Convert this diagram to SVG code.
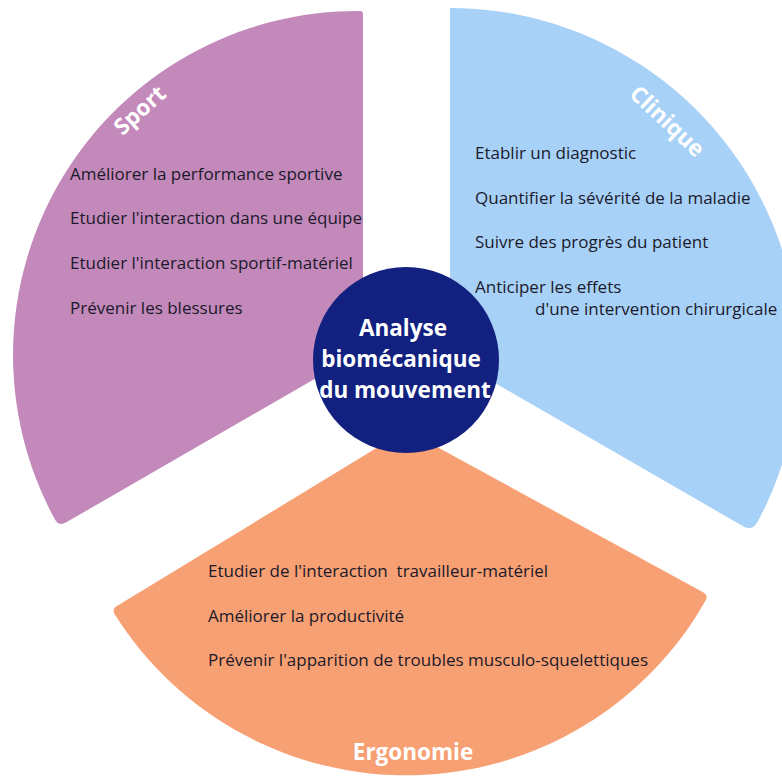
<svg xmlns="http://www.w3.org/2000/svg" width="782" height="778" viewBox="0 0 782 778">
<style>
.item{font-family:"Open Sans","Noto Sans","Liberation Sans",sans-serif;font-size:17px;fill:#1b1a2b}
.title{font-family:"Open Sans","Noto Sans","Liberation Sans",sans-serif;font-size:22.5px;font-weight:bold;fill:#ffffff}
.center{font-family:"Open Sans","Noto Sans","Liberation Sans",sans-serif;font-size:22.5px;font-weight:bold;fill:#ffffff}
</style>
<rect width="782" height="778" fill="#ffffff"/>
<g id="sport">
<path d="M363,351 L363,14 Q363,11 360,11 A344,344 0 0,0 55.1,519.8 Q58.9,526.6 65.8,522.6 Z" fill="#c389ba"/>
<text class="title" text-anchor="middle" transform="translate(145,116) rotate(-42)">Sport</text>
<text class="item" x="70" y="180">Améliorer la performance sportive</text>
<text class="item" x="70" y="224">Etudier l'interaction dans une équipe</text>
<text class="item" x="70" y="269">Etudier l'interaction sportif-matériel</text>
<text class="item" x="70" y="314">Prévenir les blessures</text>
</g>
<g id="clinique">
<path d="M450,357 L450,8 A349,349 0 0,1 757.6,521.8 Q752.2,531.5 743.5,526.5 Z" fill="#a8d1f8"/>
<text class="title" text-anchor="middle" transform="translate(662,127) rotate(43)">Clinique</text>
<text class="item" x="475" y="159">Etablir un diagnostic</text>
<text class="item" x="475" y="204">Quantifier la sévérité de la maladie</text>
<text class="item" x="475" y="248">Suivre des progrès du patient</text>
<text class="item" x="475" y="293">Anticiper les effets</text>
<text class="item" x="535" y="315">d'une intervention chirurgicale</text>
</g>
<g id="ergonomie">
<path d="M406,430 L699.6,599.5 Q703.9,602 702,606.6 A344,344 0 0,1 110,606.6 Q108.1,602 112.4,599.5 Z" fill="#f7a073" transform="rotate(-1.35 406 430)"/>
<text class="title" text-anchor="middle" x="413" y="760">Ergonomie</text>
<text class="item" x="208" y="577" xml:space="preserve">Etudier de l'interaction  travailleur-matériel</text>
<text class="item" x="208" y="622">Améliorer la productivité</text>
<text class="item" x="208" y="666">Prévenir l'apparition de troubles musculo-squelettiques</text>
</g>
<g id="connectors"></g>
<g id="centre">
<circle cx="406" cy="360" r="93" fill="#12217f"/>
<text class="center" text-anchor="middle" x="403" y="336">Analyse</text>
<text class="center" text-anchor="middle" x="401" y="367">biomécanique</text>
<text class="center" text-anchor="middle" x="405" y="398">du mouvement</text>
</g>
</svg>
